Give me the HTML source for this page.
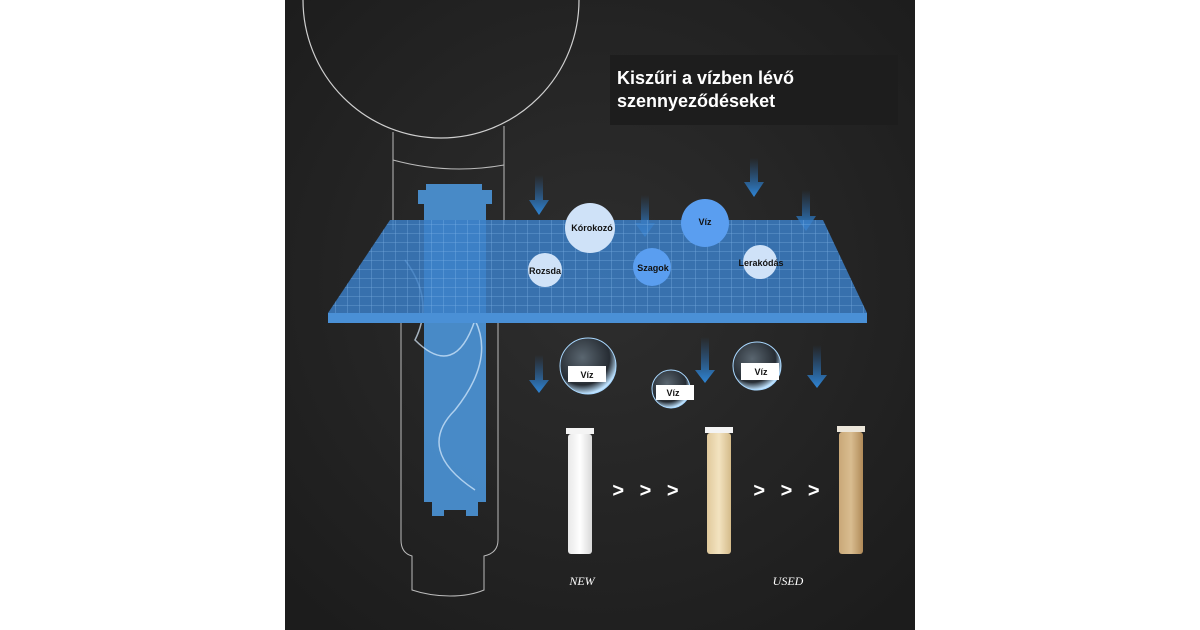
<!DOCTYPE html>
<html><head><meta charset="utf-8"><style>
html,body{margin:0;padding:0;background:#fff;width:1200px;height:630px;overflow:hidden}
svg{display:block}
text{font-family:"Liberation Sans",sans-serif}
</style></head><body>
<svg width="1200" height="630" viewBox="0 0 1200 630" xmlns="http://www.w3.org/2000/svg">
<defs>
<radialGradient id="bg" cx="50%" cy="45%" r="70%"><stop offset="0" stop-color="#2e2e2e"/><stop offset="1" stop-color="#1c1c1c"/></radialGradient>
<pattern id="grid" width="12" height="9" patternUnits="userSpaceOnUse"><path d="M12 0V9M0 9H12" stroke="#8cc0f2" stroke-width="0.8" fill="none" opacity="0.7"/></pattern>
<linearGradient id="arr" x1="0" y1="0" x2="0" y2="1"><stop offset="0" stop-color="#2a6fb8" stop-opacity="0"/><stop offset="1" stop-color="#2f86d6"/></linearGradient>
<radialGradient id="wb" cx="40%" cy="35%" r="65%"><stop offset="0" stop-color="#5a6670"/><stop offset="0.75" stop-color="#262c33"/><stop offset="1" stop-color="#bfe3ff"/></radialGradient>
<linearGradient id="c1" x1="0" x2="1"><stop offset="0" stop-color="#e8e8e8"/><stop offset=".5" stop-color="#ffffff"/><stop offset="1" stop-color="#d8d8d8"/></linearGradient>
<linearGradient id="c2" x1="0" x2="1"><stop offset="0" stop-color="#e0c99c"/><stop offset=".5" stop-color="#f3e3c0"/><stop offset="1" stop-color="#d4bb8a"/></linearGradient>
<linearGradient id="c3" x1="0" x2="1"><stop offset="0" stop-color="#c9a878"/><stop offset=".5" stop-color="#d9bd90"/><stop offset="1" stop-color="#b08a58"/></linearGradient>
</defs>
<rect x="285" y="0" width="630" height="630" fill="url(#bg)"/>
<circle cx="441" cy="0" r="138" fill="none" stroke="#cfcfcf" stroke-width="1.2"/>
<path d="M393 132 V230 M504 126 V225" stroke="#bbb" fill="none" stroke-width="1"/>
<path d="M393 160 Q448 175 504 165" stroke="#bbb" fill="none"/>
<path d="M418 190 h8 v-6 h56 v6 h10 v14 h-6 v298 h-8 v14 h-12 v-6 h-22 v6 h-12 v-14 h-8 v-298 h-6z" fill="#4a8fd0" opacity="0.95"/>
<path d="M405 260 q30 40 10 80 q40 40 60 -20 q20 40 -20 90 q-40 40 20 80" stroke="#dbeeff" stroke-width="1.5" fill="none" opacity="0.7"/>
<path d="M401 320 V540 Q401 553 412 556 V590 Q430 596 450 596 Q470 596 484 590 V556 Q498 553 498 540 V320" stroke="#bbb" fill="none" stroke-width="1"/>
<rect x="610" y="55" width="288" height="70" fill="#1d1d1d"/>
<text x="617" y="84" fill="#fff" font-size="18" font-weight="bold">Kiszűri a vízben lévő</text>
<text x="617" y="107" fill="#fff" font-size="18" font-weight="bold">szennyeződéseket</text>
<g fill="url(#arr)">
<path d="M535 175h8v25h6l-10 15-10-15h6z"/>
<path d="M641 195h8v28h6l-10 14-10-14h6z"/>
<path d="M750 158h8v24h6l-10 15-10-15h6z"/>
<path d="M802 190h8v26h6l-10 15-10-15h6z"/>
</g>
<polygon points="390,220 823,220 867,313 328,313" fill="#3b7ec6" opacity="0.85"/>
<polygon points="390,220 823,220 867,313 328,313" fill="url(#grid)"/>
<rect x="328" y="313" width="539" height="10" fill="#4a90d6"/>
<circle cx="590" cy="228" r="25" fill="#cfe2f8"/><text x="592" y="231" font-size="9" font-weight="bold" text-anchor="middle" fill="#111">Kórokozó</text>
<circle cx="545" cy="270" r="17" fill="#cfe2f8"/><text x="545" y="274" font-size="9" font-weight="bold" text-anchor="middle" fill="#111">Rozsda</text>
<circle cx="652" cy="267" r="19" fill="#5a9ef0"/><text x="653" y="271" font-size="9" font-weight="bold" text-anchor="middle" fill="#111">Szagok</text>
<circle cx="705" cy="223" r="24" fill="#5a9ef0"/><text x="705" y="225" font-size="9" font-weight="bold" text-anchor="middle" fill="#111">Víz</text>
<circle cx="760" cy="262" r="17" fill="#cfe2f8"/><text x="761" y="266" font-size="9" font-weight="bold" text-anchor="middle" fill="#111">Lerakódás</text>
<g fill="url(#arr)">
<path d="M535 355h8v25h6l-10 13-10-13h6z"/>
<path d="M701 337h8v33h6l-10 13-10-13h6z"/>
<path d="M813 345h8v30h6l-10 13-10-13h6z"/>
</g>
<circle cx="588" cy="366" r="28" fill="url(#wb)" stroke="#a9d8ff" stroke-width="1"/>
<rect x="568" y="366" width="38" height="16" fill="#fff"/><text x="587" y="378" font-size="9" font-weight="bold" text-anchor="middle" fill="#111">Víz</text>
<circle cx="671" cy="389" r="19" fill="url(#wb)" stroke="#a9d8ff" stroke-width="1"/>
<rect x="656" y="385" width="38" height="15" fill="#fff"/><text x="673" y="396" font-size="9" font-weight="bold" text-anchor="middle" fill="#111">Víz</text>
<circle cx="757" cy="366" r="24" fill="url(#wb)" stroke="#a9d8ff" stroke-width="1"/>
<rect x="741" y="363" width="38" height="17" fill="#fff"/><text x="761" y="375" font-size="9" font-weight="bold" text-anchor="middle" fill="#111">Víz</text>
<rect x="566" y="428" width="28" height="6" fill="#f4f4f4"/><rect x="568" y="434" width="24" height="120" rx="3" fill="url(#c1)"/>
<rect x="705" y="427" width="28" height="6" fill="#f4f4f4"/><rect x="707" y="433" width="24" height="121" rx="3" fill="url(#c2)"/>
<rect x="837" y="426" width="28" height="6" fill="#ece6da"/><rect x="839" y="432" width="24" height="122" rx="3" fill="url(#c3)"/>
<text x="648" y="497" font-size="20" font-weight="bold" fill="#fff" text-anchor="middle" letter-spacing="5">&gt; &gt; &gt;</text>
<text x="789" y="497" font-size="20" font-weight="bold" fill="#fff" text-anchor="middle" letter-spacing="5">&gt; &gt; &gt;</text>
<text x="582" y="585" font-size="12" font-style="italic" fill="#fff" text-anchor="middle" style="font-family:'Liberation Serif',serif">NEW</text>
<text x="788" y="585" font-size="12" font-style="italic" fill="#fff" text-anchor="middle" style="font-family:'Liberation Serif',serif">USED</text>
</svg>
</body></html>
